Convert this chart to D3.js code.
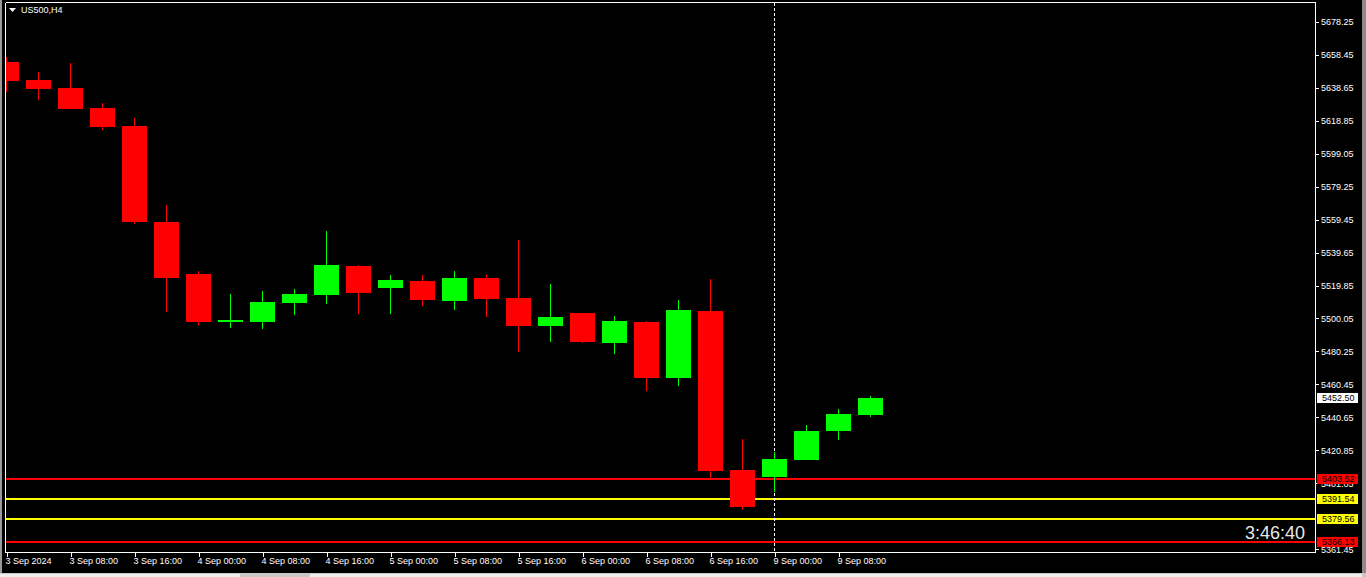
<!DOCTYPE html>
<html><head><meta charset="utf-8">
<script src="https://cdn.jsdelivr.net/npm/d3@7"></script>
<style>body{margin:0;background:#000;overflow:hidden}svg{display:block}</style>
</head><body><svg id="c" width="1366" height="577"></svg>
<script>
const symbolLabel = "US500,H4";
const times = [
 "3 Sep 00:00","3 Sep 04:00","3 Sep 08:00","3 Sep 12:00","3 Sep 16:00","3 Sep 20:00",
 "4 Sep 00:00","4 Sep 04:00","4 Sep 08:00","4 Sep 12:00","4 Sep 16:00","4 Sep 20:00",
 "5 Sep 00:00","5 Sep 04:00","5 Sep 08:00","5 Sep 12:00","5 Sep 16:00","5 Sep 20:00",
 "6 Sep 00:00","6 Sep 04:00","6 Sep 08:00","6 Sep 12:00","6 Sep 16:00","6 Sep 20:00",
 "9 Sep 00:00","9 Sep 04:00","9 Sep 08:00","9 Sep 12:00"];
const opens  = [5654.05,5643.24,5638.44,5626.43,5615.62,5557.97,5526.74,5497.92,5497.92,5509.33,5514.13,5531.55,5518.34,5522.54,5510.53,5524.34,5512.33,5495.52,5503.32,5485.31,5497.92,5464.29,5504.52,5409.04,5404.84,5415.04,5432.45,5442.07];
const highs  = [5657.05,5648.04,5653.45,5629.43,5620.42,5568.18,5528.54,5514.73,5516.53,5517.73,5552.56,5532.15,5526.14,5526.14,5528.54,5526.14,5547.16,5520.74,5503.32,5501.52,5498.52,5511.13,5523.74,5427.66,5419.85,5436.06,5445.67,5453.48];
const lows   = [5636.03,5631.23,5625.83,5613.22,5556.77,5503.92,5496.12,5494.32,5493.72,5502.11,5508.73,5502.72,5502.72,5507.53,5505.13,5500.92,5479.90,5485.91,5485.31,5478.70,5456.49,5459.49,5404.24,5385.02,5395.83,5415.04,5427.06,5440.87];
const closes = [5642.64,5637.84,5625.83,5615.02,5557.97,5524.34,5497.92,5499.12,5509.93,5514.73,5532.15,5515.33,5523.14,5511.13,5524.34,5511.73,5495.52,5500.92,5485.91,5498.52,5464.29,5505.13,5408.44,5386.82,5415.64,5432.45,5442.67,5452.50];
const yTickValues = [5678.25,5658.45,5638.65,5618.85,5599.05,5579.25,5559.45,5539.65,5519.85,5500.05,5480.25,5460.45,5440.65,5420.85,5401.05,5361.45];
const xTickTimes = ["3 Sep 00:00","3 Sep 08:00","3 Sep 16:00","4 Sep 00:00","4 Sep 08:00","4 Sep 16:00","5 Sep 00:00","5 Sep 08:00","5 Sep 16:00","6 Sep 00:00","6 Sep 08:00","6 Sep 16:00","9 Sep 00:00","9 Sep 08:00"];
const xTickLabels = ["3 Sep 2024","3 Sep 08:00","3 Sep 16:00","4 Sep 00:00","4 Sep 08:00","4 Sep 16:00","5 Sep 00:00","5 Sep 08:00","5 Sep 16:00","6 Sep 00:00","6 Sep 08:00","6 Sep 16:00","9 Sep 00:00","9 Sep 08:00"];
const levelValues = [5403.52,5391.54,5379.56,5366.13];
const levelColors = ["#ff0000","#ffff00","#ffff00","#ff0000"];
const lastPrice = 5452.50;
const cursorTime = "9 Sep 00:00";
const countdown = "3:46:40";

const svg = d3.select("#c");
const L = 5.5, T = 2.5, R = 1315.5, B = 552.5;
const FONT = "Liberation Sans, Arial, sans-serif";

const x = d3.scalePoint().domain(times).range([6.5, 6.5 + 32*(times.length-1)]);
const y = d3.scaleLinear().domain([5361.45, 5678.25]).range([549.3, 21.7]);

// outer chrome
svg.append("rect").attr("x",0).attr("y",0).attr("width",1366).attr("height",577).attr("fill","#000");
svg.append("rect").attr("x",0).attr("y",0).attr("width",2).attr("height",577).attr("fill","#9a9a9a");
svg.append("rect").attr("x",1362).attr("y",0).attr("width",4).attr("height",577).attr("fill","#8a8a8a");
svg.append("rect").attr("x",0).attr("y",573).attr("width",1366).attr("height",4).attr("fill","#c8c8c8");
svg.append("rect").attr("x",0).attr("y",574).attr("width",240).attr("height",3).attr("fill","#f0f0f0");
svg.append("rect").attr("x",310).attr("y",574).attr("width",1052).attr("height",3).attr("fill","#f0f0f0");

const defs = svg.append("defs");
defs.append("clipPath").attr("id","plot").append("rect")
  .attr("x",6).attr("y",3).attr("width",1309.5).attr("height",549);

const plot = svg.append("g").attr("clip-path","url(#plot)").attr("shape-rendering","crispEdges");

// level lines
plot.selectAll("line.level").data(levelValues).join("line").attr("class","level")
  .attr("x1",6).attr("x2",1316)
  .attr("y1",d=>Math.round(y(d))).attr("y2",d=>Math.round(y(d)))
  .attr("stroke",(d,i)=>levelColors[i]).attr("stroke-width",2);

// cursor dashed line
plot.append("line").attr("x1",x(cursorTime)).attr("x2",x(cursorTime)).attr("y1",3).attr("y2",552)
  .attr("stroke","#fff").attr("stroke-width",1).attr("stroke-dasharray","3,2");

// candles
const idx = d3.range(times.length);
const col = i => closes[i] >= opens[i] ? "#00ff00" : "#ff0000";
plot.selectAll("line.wick").data(idx).join("line").attr("class","wick")
  .attr("x1",i=>x(times[i])).attr("x2",i=>x(times[i]))
  .attr("y1",i=>y(highs[i])).attr("y2",i=>y(lows[i]))
  .attr("stroke",col).attr("stroke-width",1);
plot.selectAll("rect.body").data(idx).join("rect").attr("class","body")
  .attr("x",i=>x(times[i])-12.5).attr("width",25)
  .attr("y",i=>y(Math.max(opens[i],closes[i])))
  .attr("height",i=>Math.max(1.5, Math.abs(y(opens[i])-y(closes[i]))))
  .attr("fill",col);

// frame
const frame = svg.append("g").attr("stroke","#fff").attr("stroke-width",1).attr("shape-rendering","crispEdges");
frame.append("line").attr("x1",L).attr("x2",R).attr("y1",T).attr("y2",T);
frame.append("line").attr("x1",L).attr("x2",L).attr("y1",T).attr("y2",B);
frame.append("line").attr("x1",R).attr("x2",R).attr("y1",T).attr("y2",B);
frame.append("line").attr("x1",L).attr("x2",R).attr("y1",B).attr("y2",B);

// y axis
const yAxis = d3.axisRight(y).tickValues(yTickValues).tickSize(3).tickPadding(3).tickFormat(d3.format(".2f"));
const gy = svg.append("g").attr("transform",`translate(${R},0)`).call(yAxis);
gy.select(".domain").remove();
gy.selectAll(".tick line").attr("stroke","#fff").attr("shape-rendering","crispEdges");
gy.selectAll(".tick text").attr("fill","#fff").attr("font-family",FONT).attr("font-size",9).attr("x",5.5);

// x axis
const xAxis = d3.axisBottom(x).tickValues(xTickTimes).tickSize(4)
  .tickFormat(d => xTickLabels[xTickTimes.indexOf(d)]);
const gx = svg.append("g").attr("transform",`translate(0,${B})`).call(xAxis);
gx.select(".domain").remove();
gx.selectAll(".tick line").attr("stroke","#fff").attr("shape-rendering","crispEdges");
gx.selectAll(".tick text").attr("fill","#fff").attr("font-family",FONT).attr("font-size",9)
  .attr("text-anchor","start").attr("x",-1.5).attr("y",5).attr("dy","0.71em");

// price label boxes
const labels = levelValues.map((v,i)=>({v, bg: levelColors[i]})).concat([{v:lastPrice, bg:"#ffffff"}]);
const lg = svg.append("g");
lg.selectAll("rect").data(labels).join("rect")
  .attr("x",1317).attr("width",41).attr("y",d=>Math.round(y(d.v))-5).attr("height",10)
  .attr("fill",d=>d.bg).attr("shape-rendering","crispEdges");
lg.selectAll("text").data(labels).join("text")
  .attr("x",1322).attr("y",d=>Math.round(y(d.v))).attr("dy","0.34em")
  .attr("font-family",FONT).attr("font-size",9).attr("fill","#000")
  .text(d=>d3.format(".2f")(d.v));

// symbol label
svg.append("path").attr("d","M9,8 L16,8 L12.5,12 Z").attr("fill","#fff");
svg.append("text").attr("x",21).attr("y",10).attr("dy","0.34em")
  .attr("font-family",FONT).attr("font-size",9).attr("fill","#fff").text(symbolLabel);

// countdown
svg.append("text").attr("x",1305).attr("y",539).attr("text-anchor","end")
  .attr("font-family",FONT).attr("font-size",18).attr("fill","#e8e8e8").text(countdown);
</script></body></html>
